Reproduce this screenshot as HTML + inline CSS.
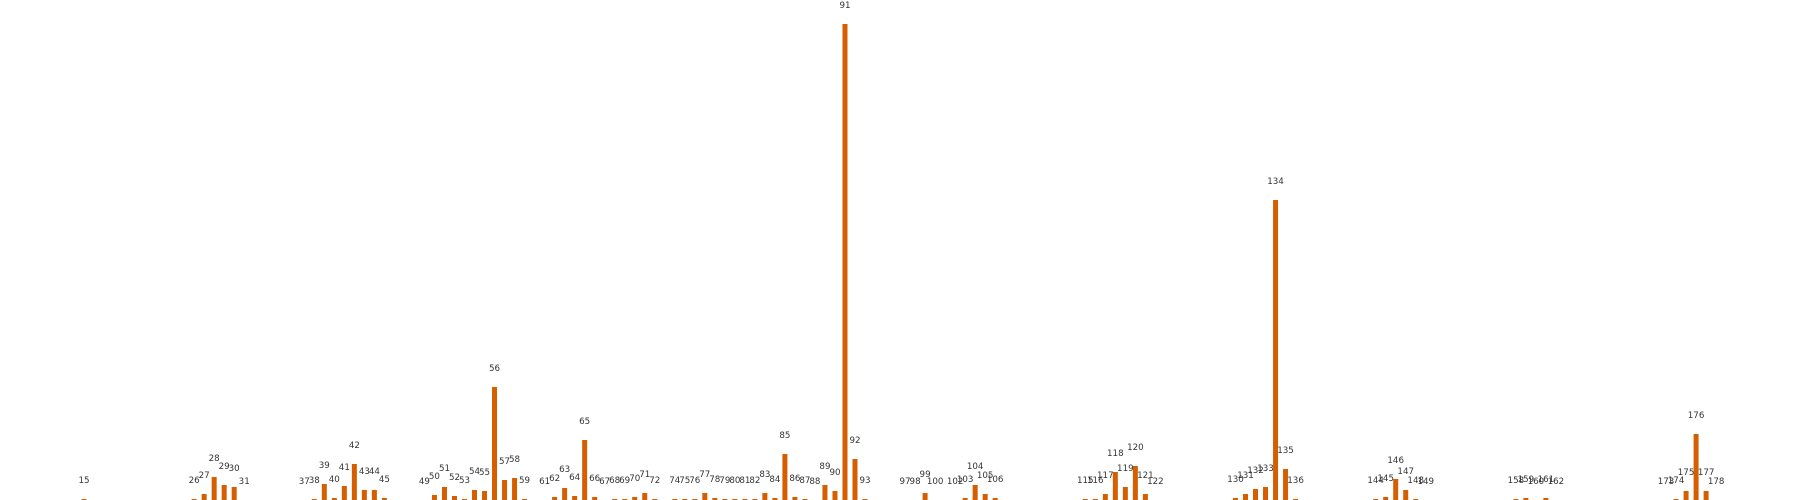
<!DOCTYPE html>
<html><head><meta charset="utf-8"><style>
html,body{margin:0;padding:0;background:#fff;}
svg{display:block;}
text{font-family:"DejaVu Sans","Liberation Sans",sans-serif;font-size:8.7px;fill:#333;}
</style></head>
<body>
<svg id="chart" width="1800" height="500" viewBox="0 0 1800 500" xmlns="http://www.w3.org/2000/svg"></svg>
<script>
const categories = [15,26,27,28,29,30,31,37,38,39,40,41,42,43,44,45,49,50,51,52,53,54,55,56,57,58,59,61,62,63,64,65,66,67,68,69,70,71,72,74,75,76,77,78,79,80,81,82,83,84,85,86,87,88,89,90,91,92,93,97,98,99,100,102,103,104,105,106,115,116,117,118,119,120,121,122,130,131,132,133,134,135,136,144,145,146,147,148,149,158,159,160,161,162,173,174,175,176,177,178];
const values = [1,1,6,23,15,13,0,0,1,16,2,14,36,10,10,2,0,5,13,4,1,10,9,113,20,22,1,0,3,12,4,60,3,0,1,1,3,7,1,1,1,1,7,2,1,1,1,1,7,2,46,3,1,0,15,9,476,41,1,0,0,7,0,0,2,15,6,2,1,1,6,28,13,34,6,0,2,6,11,13,300,31,1,1,3,21,10,1,0,1,2,0,2,0,0,1,9,66,9,0];

const svg = document.getElementById('chart');
const NS = 'http://www.w3.org/2000/svg';
const x = i => 84 + (i - 15) * 10.013;
const y = v => 500 - v;
const barW = 5;
categories.forEach((c, k) => {
  const v = values[k];
  const r = document.createElementNS(NS, 'rect');
  r.setAttribute('x', (x(c) - barW / 2).toFixed(2));
  r.setAttribute('y', y(v));
  r.setAttribute('width', barW);
  r.setAttribute('height', Math.max(0, 500 - y(v)));
  r.setAttribute('fill', '#d55e00');
  
  
  svg.appendChild(r);
  const t = document.createElementNS(NS, 'text');
  t.setAttribute('x', x(c).toFixed(2));
  t.setAttribute('y', y(v) - 16);
  t.setAttribute('text-anchor', 'middle');
  t.textContent = c;
  
  
  svg.appendChild(t);
});
</script>
</body></html>
